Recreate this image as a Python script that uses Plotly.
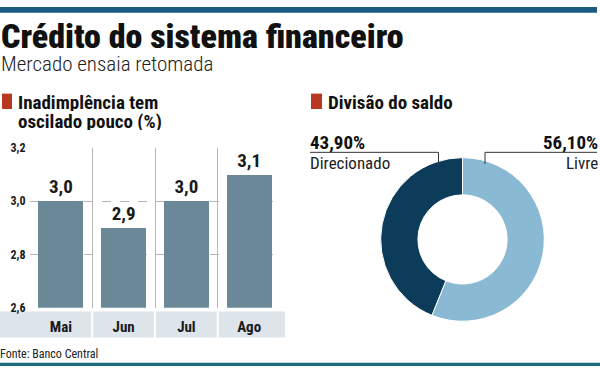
import plotly.graph_objects as go

# ---- data ----
months = ["Mai", "Jun", "Jul", "Ago"]
inadimplencia = [3.0, 2.9, 3.0, 3.1]
y_ticks = [2.6, 2.8, 3.0, 3.2]
y_ticktext = ["2,6", "2,8", "3,0", "3,2"]
value_text = ["3,0", "2,9", "3,0", "3,1"]

saldo_labels = ["Livre", "Direcionado"]
saldo_values = [56.1, 43.9]
saldo_text = ["56,10%", "43,90%"]

W, H = 600, 373
FONT = "Roboto Condensed, DejaVu Sans Condensed, sans-serif"
BAR_COLOR = "#6b8898"
RED = "#b8391f"


def px(x):
    return x / W


def py(y):
    return 1 - y / H


fig = go.Figure()

fig.add_trace(go.Bar(
    x=months, y=inadimplencia, width=0.72,
    marker=dict(color=BAR_COLOR, line=dict(width=0)),
    text=value_text, textposition="outside",
    textfont=dict(family=FONT, size=19, color="#1a1a1a", weight="bold"),
    cliponaxis=False, hoverinfo="skip",
    xaxis="x", yaxis="y",
))

fig.add_trace(go.Pie(
    labels=saldo_labels, values=saldo_values,
    sort=False, direction="clockwise", rotation=0,
    hole=0.545, textinfo="none", showlegend=False, hoverinfo="skip",
    marker=dict(colors=["#8ab9d3", "#0d3b5a"], line=dict(color="white", width=1)),
    domain=dict(x=[px(377.5), px(547.5)], y=[py(326.5), py(156.5)]),
))

fig.update_layout(
    width=W, height=H,
    margin=dict(l=0, r=0, t=0, b=0),
    paper_bgcolor="white", plot_bgcolor="white",
    showlegend=False,
    bargap=0,
    xaxis=dict(
        domain=[px(29.5), px(280.5)], range=[-0.5, 3.5],
        type="category", tickson="boundaries",
        showgrid=True, gridcolor="#b5b5b5", gridwidth=1,
        showline=False, ticks="", zeroline=False,
        tickfont=dict(family=FONT, size=15, color="#1a1a1a", weight="bold"),
        ticklabelstandoff=8,
        fixedrange=True,
    ),
    yaxis=dict(
        domain=[py(312.5), py(146.5)], range=[2.6, 3.2],
        tickvals=y_ticks, ticktext=y_ticktext,
        showgrid=True, gridcolor="#b5b5b5", griddash="dash", gridwidth=1,
        zeroline=False, showline=False, ticks="",
        tickfont=dict(family=FONT, size=12, color="#1a1a1a", weight="bold"),
        ticklabelstandoff=3,
        fixedrange=True,
    ),
)

shapes = []
# top and bottom rules
shapes.append(dict(type="rect", xref="paper", yref="paper", x0=0, x1=px(597), y0=py(6), y1=1,
                   fillcolor="#1b5b82", line=dict(width=0), layer="above"))
shapes.append(dict(type="rect", xref="paper", yref="paper", x0=0, x1=1, y0=0, y1=py(369.5),
                   fillcolor="#1f6b7b", line=dict(width=0), layer="above"))
# category band
shapes.append(dict(type="rect", xref="paper", yref="paper", x0=0, x1=px(285), y0=py(343.5), y1=py(316.5),
                   fillcolor="#dde4ea", line=dict(width=0), layer="below"))
for i in range(len(months) - 1):
    shapes.append(dict(type="line", xref="x", yref="paper", x0=i + 0.5, x1=i + 0.5,
                       y0=py(343.5), y1=py(316.5), line=dict(color="white", width=2), layer="below"))
# red squares
shapes.append(dict(type="rect", xref="paper", yref="paper", x0=px(2), x1=px(12), y0=py(106), y1=py(90),
                   fillcolor=RED, line=dict(width=0)))
shapes.append(dict(type="rect", xref="paper", yref="paper", x0=px(311), x1=px(322), y0=py(106), y1=py(90),
                   fillcolor=RED, line=dict(width=0)))
# leader lines
shapes.append(dict(type="path", xref="paper", yref="paper",
                   path=f"M {px(310)},{py(151)} L {px(438.5)},{py(151)} L {px(438.5)},{py(163)}",
                   line=dict(color="#333333", width=1)))
shapes.append(dict(type="path", xref="paper", yref="paper",
                   path=f"M {px(597)},{py(151)} L {px(485)},{py(151)} L {px(485)},{py(163)}",
                   line=dict(color="#333333", width=1)))
fig.update_layout(shapes=shapes)


def ann(text, x, y, size, anchor="left", weight="normal", color="#111111", height=None):
    fig.add_annotation(
        text=text, xref="paper", yref="paper", x=px(x), y=py(y),
        xanchor=anchor, yanchor="middle", showarrow=False, height=height, borderpad=0,
        font=dict(family=FONT, size=size, color=color, weight=weight),
    )


ann("Crédito do sistema financeiro", 0, 30, 34, weight=900, height=32)
ann("Mercado ensaia retomada", 0, 59, 21, color="#222222", weight=300, height=20)
ann("Inadimplência tem", 17, 99, 19, weight="bold", height=18)
ann("oscilado pouco (%)", 17, 118, 19, weight="bold", height=18)
ann("Divisão do saldo", 327, 99, 19, weight="bold")
ann(saldo_text[1], 309, 141, 19, weight="bold")
ann(saldo_labels[1], 309, 162, 17, color="#222222")
ann(saldo_text[0], 599, 141, 19, anchor="right", weight="bold")
ann(saldo_labels[0], 599, 162, 17, anchor="right", color="#222222")
ann("Fonte: Banco Central", -1, 361, 12, color="#222222")

fig.write_html(
    "out.html",
    config={"displayModeBar": False, "staticPlot": True},
    post_script="document.body.style.margin='0px';document.body.style.overflow='hidden';",
)
